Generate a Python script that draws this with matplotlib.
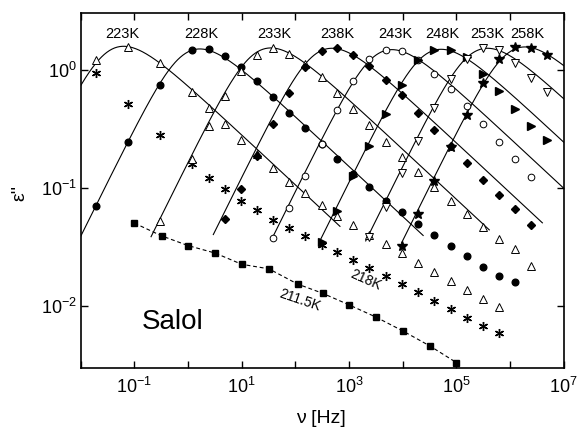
import numpy as np
import matplotlib
matplotlib.use('Agg')
import matplotlib.pyplot as plt
from matplotlib.ticker import FixedLocator, FixedFormatter, NullLocator

plt.rcParams['font.family'] = ['Liberation Sans', 'DejaVu Sans']
plt.rcParams['mathtext.fontset'] = 'custom'
plt.rcParams['mathtext.rm'] = 'Liberation Sans'
plt.rcParams['mathtext.it'] = 'Liberation Sans:italic'
plt.rcParams['mathtext.default'] = 'regular'

# common measurement frequency grid (Hz)
FREQ = [0.019, 0.076, 0.30, 1.2, 2.4, 4.8, 9.5, 19, 38, 76, 151, 309, 603,
        1.2e3, 2.4e3, 4.9e3, 9.8e3, 1.95e4, 3.9e4, 7.8e4, 1.55e5, 3.1e5,
        6.2e5, 1.23e6, 2.5e6, 4.9e6]

# dielectric loss data, each starting at given index of FREQ
eps_218 = [0.938, 0.515, 0.281, 0.160, 0.122, 0.0968, 0.078, 0.0643, 0.0536,
           0.0455, 0.0387, 0.0329, 0.0285, 0.0245, 0.0208, 0.0179, 0.0153,
           0.0131, 0.0111, 0.00938, 0.00796, 0.00681, 0.00587]
start_218 = 0
eps_223 = [1.22, 1.57, 1.14, 0.646, 0.473, 0.348, 0.255, 0.193, 0.147, 0.113,
           0.0902, 0.0718, 0.0579, 0.0485, 0.0398, 0.0335, 0.0279, 0.0233,
           0.0195, 0.0163, 0.0137, 0.0115, 0.00977]
start_223 = 0
eps_228 = [0.0703, 0.242, 0.746, 1.476, 1.496, 1.315, 1.047, 0.796, 0.589,
           0.430, 0.321, 0.236, 0.175, 0.132, 0.101, 0.078, 0.0622, 0.0495,
           0.0398, 0.0324, 0.0263, 0.0214, 0.0178, 0.0158]
start_228 = 0
eps_233 = [0.0519, 0.175, 0.331, 0.603, 0.982, 1.340, 1.528, 1.358, 1.117,
           0.861, 0.631, 0.465, 0.342, 0.244, 0.182, 0.136, 0.101, 0.0776,
           0.0598, 0.0465, 0.0367, 0.0302, 0.0219]
start_233 = 2
eps_238 = [0.0543, 0.0982, 0.187, 0.348, 0.634, 1.047, 1.449, 1.514, 1.321,
           1.067, 0.822, 0.614, 0.430, 0.310, 0.224, 0.162, 0.117, 0.0873,
           0.0664, 0.0488]
start_238 = 5
eps_243 = [0.0375, 0.0681, 0.127, 0.236, 0.452, 0.796, 1.222, 1.472, 1.429,
           1.216, 0.925, 0.686, 0.489, 0.347, 0.245, 0.177, 0.124]
start_243 = 8
eps_248 = [0.0347, 0.0631, 0.125, 0.224, 0.424, 0.746, 1.216, 1.476, 1.479,
           1.282, 0.920, 0.664, 0.465, 0.331, 0.254]
start_248 = 11
eps_253 = [0.0382, 0.0685, 0.133, 0.247, 0.473, 0.839, 1.230, 1.514, 1.455,
           1.148, 0.855, 0.643]
start_253 = 14
eps_258 = [0.0324, 0.0603, 0.114, 0.220, 0.416, 0.771, 1.230, 1.556, 1.542,
           1.330]
start_258 = 16

# 211.5 K glass data
freq_2115 = [0.1, 0.32, 1.0, 3.2, 10, 32, 110, 320, 1000, 3200, 1.0e4, 3.2e4, 1.0e5]
eps_2115 = [0.0502, 0.0392, 0.0324, 0.028, 0.0225, 0.0206, 0.0153, 0.0128,
            0.0102, 0.00802, 0.00614, 0.00458, 0.00331]

# fit curve parameters (Havriliak-Negami shape)
fit_temps = ['223K', '228K', '233K', '238K', '243K', '248K', '253K', '258K']
fit_peak_freq = [0.063, 1.66, 35, 480, 6.3e3, 5.2e4, 3.8e5, 1.9e6]
fit_peak_eps = [1.58, 1.50, 1.53, 1.52, 1.48, 1.49, 1.52, 1.56]
fit_fmin = [0.01, 0.01, 0.204, 2.95, 36, 290, 2040, 9550]
fit_fmax = [676, 2.4e4, 4.1e5, 4.0e6, 1e7, 1e7, 1e7, 1e7]
HN_A = 0.92
HN_G = 0.46

label_freq = [0.060, 1.74, 40, 600, 7.4e3, 5.5e4, 3.8e5, 2.1e6]

x_ticks = [1e-2, 1e-1, 1e0, 1e1, 1e2, 1e3, 1e4, 1e5, 1e6, 1e7]
x_ticklabels = ['', '$10^{-1}$', '', '$10^{1}$', '', '$10^{3}$', '',
                '$10^{5}$', '', '$10^{7}$']
y_ticks = [1e-2, 1e-1, 1e0]
y_ticklabels = ['$10^{-2}$', '$10^{-1}$', '$10^{0}$']


def hn_loss(f, fp, peak, a, g):
    w = np.logspace(-6, 6, 6001)
    shape = -np.imag(1.0 / (1 + (1j * w) ** a) ** g)
    i = np.argmax(shape)
    x = np.asarray(f) / fp * w[i]
    s = -np.imag(1.0 / (1 + (1j * x) ** a) ** g)
    return peak * s / shape[i]


fig = plt.figure(figsize=(5.77, 4.32), dpi=100)
ax = fig.add_axes([0.140, 0.149, 0.837, 0.820])
ax.set_xscale('log')
ax.set_yscale('log')

# fit curves
for fp, pk, f0, f1 in zip(fit_peak_freq, fit_peak_eps, fit_fmin, fit_fmax):
    ff = np.logspace(np.log10(f0), np.log10(f1), 400)
    ax.plot(ff, hn_loss(ff, fp, pk, HN_A, HN_G), color='black', lw=0.8, zorder=2)

def series(eps, start):
    return FREQ[start:start + len(eps)], eps

mk = dict(color='black', linestyle='none', zorder=3)
f, e = series(eps_218, start_218)
ax.plot(f, e, marker=(6, 2, 0), ms=6.5, mew=1.0, **mk)
f, e = series(eps_223, start_223)
ax.plot(f, e, marker='^', ms=5.5, mfc='white', mew=0.7, **mk)
f, e = series(eps_228, start_228)
ax.plot(f, e, marker='o', ms=4.8, **mk)
f, e = series(eps_233, start_233)
ax.plot(f, e, marker='^', ms=5.5, mfc='white', mew=0.7, **mk)
f, e = series(eps_238, start_238)
ax.plot(f, e, marker='D', ms=3.9, **mk)
f, e = series(eps_243, start_243)
ax.plot(f, e, marker='o', ms=4.8, mfc='white', mew=0.7, **mk)
f, e = series(eps_248, start_248)
ax.plot(f, e, marker='>', ms=5.3, **mk)
f, e = series(eps_253, start_253)
ax.plot(f, e, marker='v', ms=5.5, mfc='white', mew=0.7, **mk)
f, e = series(eps_258, start_258)
ax.plot(f, e, marker='*', ms=7, **mk)

ax.plot(freq_2115, eps_2115, color='black', lw=0.8, linestyle=(0, (3.5, 2.5)),
        marker='s', ms=3.8, zorder=3)

for t, lf in zip(fit_temps, label_freq):
    ax.text(lf, 2.02, t, ha='center', va='center', fontsize=10.5)

ax.text(10 ** 2.076, 10 ** -1.949, '211.5K', rotation=-19, ha='center',
        va='center', fontsize=10)
ax.text(10 ** 3.305, 10 ** -1.78, '218K', rotation=-24, ha='center',
        va='center', fontsize=10)
ax.text(10 ** -0.28, 10 ** -2.14, 'Salol', ha='center', va='center', fontsize=20)

ax.set_xlim(1e-2, 1e7)
ax.set_ylim(3e-3, 3)
ax.xaxis.set_major_locator(FixedLocator(x_ticks))
ax.xaxis.set_major_formatter(FixedFormatter(x_ticklabels))
ax.xaxis.set_minor_locator(NullLocator())
ax.yaxis.set_major_locator(FixedLocator(y_ticks))
ax.yaxis.set_major_formatter(FixedFormatter(y_ticklabels))
ax.yaxis.set_minor_locator(NullLocator())
ax.tick_params(which='major', direction='in', length=5, width=1.0,
               top=True, right=True, labelsize=13)
ax.tick_params(axis='x', pad=7)
ax.tick_params(axis='y', pad=3)
for s in ax.spines.values():
    s.set_linewidth(1.2)

fig.text(0.556, 0.032, 'ν [Hz]', ha='center', va='center', fontsize=14)
fig.text(0.034, 0.553, "ε''", rotation=90, ha='center', va='center', fontsize=14)

fig.savefig('out.png', dpi=100)
